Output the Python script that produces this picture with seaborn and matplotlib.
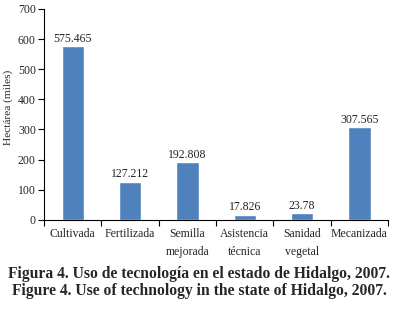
import matplotlib
matplotlib.use("Agg")
import matplotlib.pyplot as plt
import seaborn as sns
import pandas as pd
import numpy as np

categories = ["Cultivada", "Fertilizada", "Semilla\nmejorada", "Asistencia\ntécnica", "Sanidad\nvegetal", "Mecanizada"]
values = [575.465, 127.212, 192.808, 17.826, 23.78, 307.565]
labels = ["575.465", "127.212", "192.808", "17.826", "23.78", "307.565"]
yticks = [0, 100, 200, 300, 400, 500, 600, 700]

sns.set_theme(style="white")
plt.rcParams['font.family'] = ['Liberation Serif', 'DejaVu Serif']

df = pd.DataFrame({"cat": categories, "val": values})

fig = plt.figure(figsize=(3.98, 3.16), dpi=100)
ax = fig.add_axes([0.111, 0.304, 0.864, 0.668])
sns.barplot(data=df, x="cat", y="val", color="#4F81BD", width=0.39, ax=ax, saturation=1)

for i, (v, t) in enumerate(zip(values, labels)):
    ax.text(i, v + 4, t, ha="center", va="bottom", fontsize=8.5, color="#222222")

ax.set_ylim(0, 700)
ax.set_xlim(-0.5, 5.5)
ax.set_yticks(yticks)
ax.set_yticklabels([str(t) for t in yticks], fontsize=8.5)
ax.set_xticks(range(len(categories)))
ax.set_xticklabels(categories, fontsize=8.5, linespacing=1.6)
ax.set_xticks(np.arange(-0.5, 6.0, 1.0), minor=True)
ax.tick_params(axis="x", which="major", length=0, pad=6)
ax.tick_params(axis="x", which="minor", length=4, width=0.8, direction="out", color="black", bottom=True)
ax.tick_params(axis="y", length=4, width=0.8, direction="out", color="black", left=True, pad=2)
ax.set_xlabel("")
ax.set_ylabel("Hectárea (miles)", fontsize=8.2)
ax.yaxis.set_label_coords(-0.09, 0.535)
for s in ["top", "right"]:
    ax.spines[s].set_visible(False)
for s in ["left", "bottom"]:
    ax.spines[s].set_color("black")
    ax.spines[s].set_linewidth(0.8)

fig.text(0.5, 0.133, "Figura 4. Uso de tecnología en el estado de Hidalgo, 2007.", ha="center", va="center",
         fontsize=11.25, fontweight="bold")
fig.text(0.5, 0.079, "Figure 4. Use of technology in the state of Hidalgo, 2007.", ha="center", va="center",
         fontsize=11.25, fontweight="bold")

fig.savefig("out.png", dpi=100)
